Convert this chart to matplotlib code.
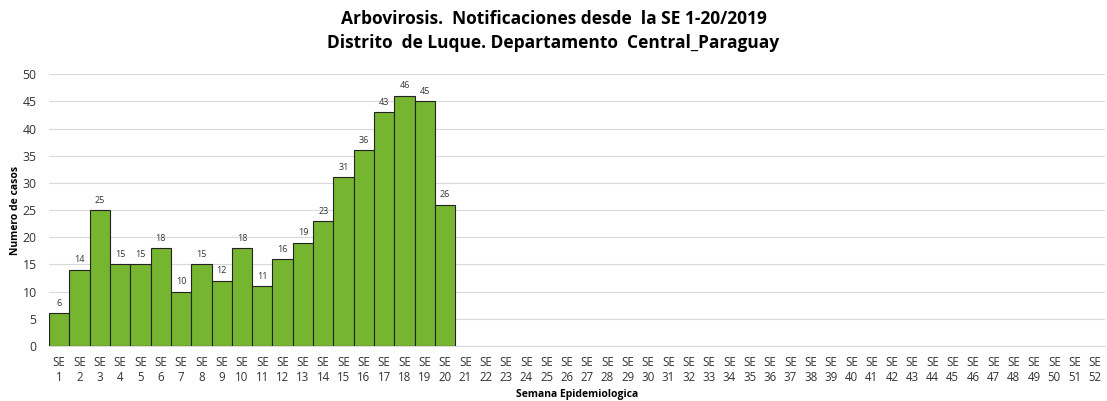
import matplotlib
matplotlib.use("Agg")
from matplotlib import pyplot as plt

plt.rcParams['font.family'] = ['Open Sans', 'DejaVu Sans']

# Datos: casos por semana epidemiologica
semanas = list(range(1, 53))
casos = [6, 14, 25, 15, 15, 18, 10, 15, 12, 18, 11, 16, 19, 23, 31, 36, 43, 46, 45, 26]
etiquetas = ["SE\n%d" % s for s in semanas]

fig = plt.figure(figsize=(11.07, 4.01), dpi=100)
ax = fig.add_axes([0.0443, 0.137, 0.954, 0.678])

x_barras = list(range(len(casos)))
barras = ax.bar(x_barras, casos, width=1.0, color='#76b52f', edgecolor='#222222', linewidth=0.8, zorder=3)

for xi, v in zip(x_barras, casos):
    ax.text(xi, v + 1.0, str(v), ha='center', va='bottom', fontsize=6.5, color='#333333')

ax.set_xlim(-0.5, len(semanas) - 0.5)
ax.set_ylim(0, 50)
ax.set_yticks(range(0, 51, 5))
ax.set_xticks(range(len(semanas)))
ax.set_xticklabels(etiquetas, fontsize=8.3, color='#333333', linespacing=1.2)
ax.tick_params(axis='y', labelsize=8.8, colors='#333333', length=0, pad=9)
ax.tick_params(axis='x', length=0, pad=7)

ax.grid(axis='y', color='#d9d9d9', linewidth=0.8, zorder=0)
for s in ['top', 'right', 'left']:
    ax.spines[s].set_visible(False)
ax.spines['bottom'].set_color('#d9d9d9')

# Titulos de ejes colocados en coordenadas de figura
fig.text(15 / 1107, 1 - 210 / 401, "Numero de casos", rotation=90, fontsize=7.5,
         fontweight='bold', ha='center', va='center')
fig.text(577 / 1107, 1 - 394 / 401, "Semana Epidemiologica", fontsize=7.5,
         fontweight='bold', ha='center', va='center')

fig.suptitle("Arbovirosis.  Notificaciones desde  la SE 1-20/2019\nDistrito  de Luque. Departamento  Central_Paraguay",
             fontsize=12.5, fontweight='bold', y=0.975, linespacing=1.45)

fig.savefig("out.png", dpi=100)
